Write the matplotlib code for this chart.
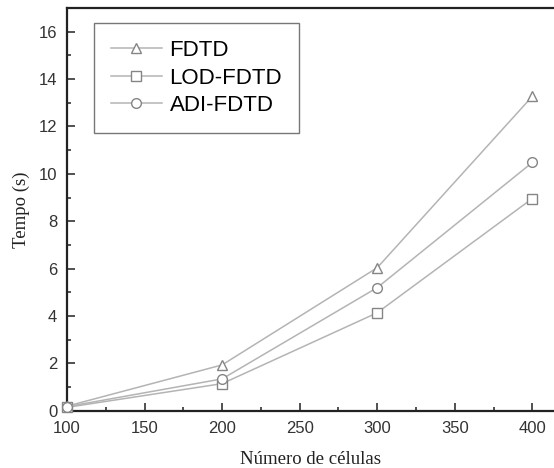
import matplotlib.pyplot as plt
from matplotlib.ticker import MultipleLocator

# Data
cells = [100, 200, 300, 400]
fdtd = [0.2, 1.94, 6.04, 13.27]
lod_fdtd = [0.15, 1.15, 4.14, 8.96]
adi_fdtd = [0.18, 1.35, 5.2, 10.48]

series = [
    ("FDTD", fdtd, "^"),
    ("LOD-FDTD", lod_fdtd, "s"),
    ("ADI-FDTD", adi_fdtd, "o"),
]

fig = plt.figure(figsize=(5.54, 4.68), dpi=100)
ax = fig.add_axes([0.121, 0.122, 0.879, 0.861])

for name, vals, mk in series:
    ax.plot(cells, vals, color="#b4b4b4", linewidth=1.1, marker=mk,
            markersize=7, markerfacecolor="white", markeredgecolor="#858585",
            markeredgewidth=1.0, label=name, clip_on=False, zorder=3)

ax.set_xlim(100, 414)
ax.set_ylim(0, 17)
ax.xaxis.set_major_locator(MultipleLocator(50))
ax.xaxis.set_minor_locator(MultipleLocator(25))
ax.yaxis.set_major_locator(MultipleLocator(2))
ax.yaxis.set_minor_locator(MultipleLocator(1))
ax.tick_params(which="both", direction="in", width=1.2, colors="#333333",
               labelsize=12, top=False, right=False)
ax.tick_params(which="major", length=6, pad=7)
ax.tick_params(which="minor", length=3)
for lbl in ax.get_xticklabels() + ax.get_yticklabels():
    lbl.set_fontfamily("Liberation Sans")

for s in ["left", "bottom", "top"]:
    ax.spines[s].set_linewidth(1.6)
    ax.spines[s].set_color("#222222")
ax.spines["right"].set_visible(False)

ax.set_xlabel("Número de células", family="Liberation Serif", fontsize=13.5,
              labelpad=11, color="#222222")
ax.set_ylabel("Tempo (s)", family="Liberation Serif", fontsize=13.5,
              labelpad=6, color="#222222")

leg = ax.legend(loc="upper left", bbox_to_anchor=(0.0555, 0.962),
                prop={"family": "Liberation Sans", "size": 16},
                frameon=True, fancybox=False, handlelength=2.3,
                borderpad=0.75, labelspacing=0.3, handletextpad=0.35,
                borderaxespad=0)
leg.get_frame().set_edgecolor("#555555")
leg.get_frame().set_linewidth(1.0)

plt.savefig("out.png", dpi=100)
